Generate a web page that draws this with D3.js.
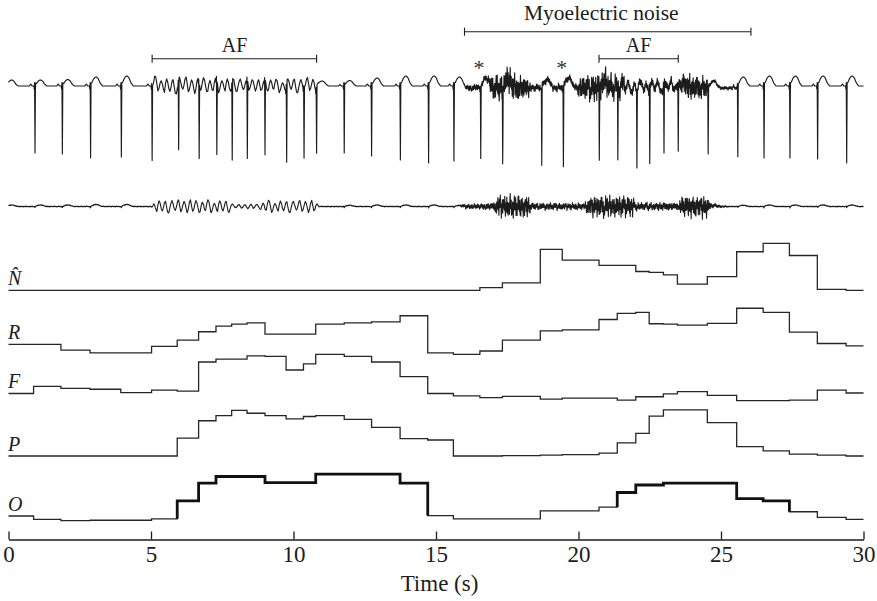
<!DOCTYPE html>
<html><head><meta charset="utf-8">
<script src="https://cdn.jsdelivr.net/npm/d3@7"></script>
<style>
html,body{margin:0;padding:0;background:#fff;}
svg{display:block;font-family:"Liberation Serif","Times New Roman",serif;}
</style></head><body>
<svg id="chart" width="877" height="601"></svg>
<script>
// ---------------- DATA ----------------
const timeTicks = [0, 5, 10, 15, 20, 25, 30];
const axisTitle = "Time (s)";

// start times of the analysis intervals (one per detected beat)
const stepStarts = [0, 0.88, 1.84, 2.86, 3.94, 5.02, 5.92, 6.67, 7.28, 7.83, 8.37, 9.0, 9.74, 10.35, 10.78,
  11.78, 12.74, 13.74, 14.71, 15.61, 16.54, 17.33, 18.66, 19.43, 20.72, 21.36, 22.01, 22.48, 22.98,
  23.47, 24.52, 25.55, 26.48, 27.4, 28.38, 29.39];
const stepEnd = 30;

const nHatValues = [0,0,0,0,0,0,0,0,0,0,0,0,0,0,0,0,0,0,0,0,
  0.055,0.16,0.87,0.64,0.53,0.53,0.40,0.38,0.33,0.13,0.29,0.82,1.0,0.74,0.02,0];
const rValues = [0.21,0.21,0.09,0.03,0.03,0.17,0.30,0.48,0.60,0.64,0.67,0.43,0.43,0.43,0.64,0.67,0.69,0.82,
  0.03,0,0.07,0.30,0.50,0.52,0.74,0.87,0.89,0.65,0.64,0.62,0.66,0.98,0.89,0.47,0.23,0.18];
const fValues = [0.16,0.31,0.27,0.25,0.18,0.23,0.21,0.83,0.89,0.89,0.96,0.95,0.66,0.79,0.99,0.95,0.83,0.52,
  0.16,0.11,0.07,0.10,0.04,0.06,0.06,0.02,0.09,0.09,0.15,0.20,0.12,0.01,0.01,0.02,0.23,0.17];
const pValues = [0,0,0,0,0,0,0.38,0.75,0.86,0.97,0.91,0.86,0.79,0.84,0.86,0.78,0.61,0.37,
  0.34,0,0,0.01,0.02,0.03,0.06,0.28,0.48,0.85,0.98,0.98,0.71,0.20,0.11,0.04,0.02,0];
const oValues = [0.10,0.03,0,0.01,0.01,0.04,0.42,0.80,0.94,0.94,0.94,0.81,0.81,0.81,0.99,0.99,0.99,0.80,
  0.11,0.04,0.04,0.04,0.21,0.21,0.29,0.60,0.76,0.76,0.80,0.80,0.80,0.47,0.42,0.19,0.07,0.03];
const rowLabels = ["N\u0302", "R", "F", "P", "O"];
const afDetected = [[5.92, 14.71], [21.36, 27.4]];

// ECG: beat (R-peak) times, QRS depths, T and P wave heights
const beatTimes = [-0.08, 0.93, 1.89, 2.88, 3.96, 5.04, 5.97, 6.69, 7.31, 7.85, 8.38, 9.0, 9.76, 10.37, 10.81,
  11.78, 12.74, 13.75, 14.74, 15.63, 16.57, 17.34, 18.71, 19.47, 20.73, 21.38, 22.05, 22.5, 23.0, 23.5,
  24.55, 25.59, 26.51, 27.42, 28.39, 29.41];
const beatDepths = [7.0, 6.7, 6.8, 7.2, 7.1, 7.3, 6.8, 7.3, 7.2, 7.6, 7.6, 7.3, 7.7, 6.8, 6.4,
  6.7, 7.0, 7.4, 7.7, 7.5, 7.1, 7.8, 7.7, 7.7, 7.0, 7.4, 7.6, 7.2, 6.8, 6.3,
  6.8, 7.0, 7.2, 7.2, 7.3, 7.7];
const tWaveHeights = [0.6, 0.6, 0.65, 0.9, 1.0, 0.3, 0.15, 0.15, 0.15, 0.15, 0.15, 0.15, 0.15, 0.15, 0.5,
  0.55, 0.8, 1.0, 1.0, 0.9, 1.0, 0.8, 0.85, 1.0, 0.5, 0.3, 0.3, 0.3, 0.3, 0.5,
  0.7, 0.9, 1.0, 1.0, 1.0, 1.0];
const pWaveHeights = [0.2, 0.2, 0.2, 0.2, 0.2, 0.2, 0, 0, 0, 0, 0, 0, 0, 0, 0,
  0.15, 0.2, 0.2, 0.2, 0.2, 0.15, 0, 0.15, 0.15, 0.1, 0, 0, 0, 0, 0,
  0.1, 0.15, 0.2, 0.2, 0.2, 0.2];
const residualTHeights = [0.15, 0.15, 0.15, 0.2, 0.2, 0, 0, 0, 0, 0, 0, 0, 0, 0, 0,
  0.12, 0.15, 0.15, 0.15, 0.1, 0, 0, 0, 0, 0, 0, 0, 0, 0, 0,
  0.1, 0.12, 0.15, 0.15, 0.15, 0.15];

// envelopes: [time, amplitude]
const ecgFibEnvelope = [[5.0,0],[5.12,0.8],[7.8,0.75],[8.4,0.6],[10.75,0.75],[10.9,0],[20.7,0],[20.8,0.5],[23.4,0.5],[23.55,0]];
const ecgNoiseEnvelope = [[15.95,0],[16.1,0.35],[16.8,0.4],[17.0,1.4],[17.6,1.6],[18.2,1.2],[18.35,0.4],
  [19.9,0.4],[20.1,1.3],[20.6,1.6],[21.5,1.3],[21.7,0.5],[23.5,0.5],[23.7,1.4],[24.5,1.3],[24.6,0.2],[25.5,0.2],[25.6,0]];
const ecgDrift = [[15.95,0],[16.1,-0.2],[25.5,-0.2],[25.65,0]];
const resFibEnvelope = [[5.0,0],[5.12,0.65],[7.7,0.65],[7.9,0.2],[8.8,0.25],[9.0,0.6],[10.75,0.6],[10.9,0]];
const resNoiseEnvelope = [[0,0.04],[15.8,0.04],[16.0,0.25],[17.0,0.4],[17.2,1.3],[18.2,1.3],[18.35,0.4],
  [20.2,0.4],[20.4,1.2],[21.9,1.2],[22.0,0.45],[23.5,0.45],[23.65,1.2],[24.5,1.2],[24.65,0.3],[25.1,0.1],[25.3,0.04],[30,0.04]];

// sampled shapes of fibrillatory waves and myoelectric noise
const fWaveShape = [0.2,0.8,0.5,-0.3,-1.0,-0.4,0.6,1.0,0.1,-0.7,-0.5,0.3,0.9,0.6,-0.2,-0.9,-0.8,0.2,0.7,0.3,
  -0.5,-0.6,0.4,1.0,0.8,-0.1,-1.0,-0.6,0.1,0.5,0.2,-0.4,-0.8,0.3,0.9,0.5,-0.3,-0.7,-0.2,0.6,0.8,-0.1,
  -0.9,-1.0,-0.2,0.5,0.9,0.4,-0.3,-0.6,-0.1,0.7,1.0,0.2,-0.8,-0.5];
const noiseShape = [0.3,-0.8,0.9,-0.2,-1.0,0.6,0.1,-0.5,1.0,-0.9,0.4,-0.1,-0.7,0.8,-0.3,0.5,-1.0,0.2,0.9,-0.6,
  0.0,0.7,-0.8,0.3,-0.4,1.0,-0.2,-0.9,0.6,-0.5,0.8,-0.1,-0.6,0.4,0.9,-1.0,0.1,0.5,-0.7,0.2,-0.3,0.9,-0.8,
  0.6,-0.1,-0.5,1.0,-0.4,0.2,-0.9,0.7,0.0,-0.6,0.8,-0.2,0.4,-1.0,0.5,-0.3,0.9,-0.7,0.1,0.6,-0.4];

const bracketLabels = ["AF", "Myoelectric noise", "AF"];
const bracketStarts = [5.04, 16.0, 20.72];
const bracketEnds = [10.81, 26.05, 23.5];
const bracketLabelAt = [7.93, 20.8, 22.11];
const bracketLevel = [1, 0, 1];
const asteriskTimes = [16.51, 19.41];

// ---------------- DRAW ----------------
const svg = d3.select("#chart");
const ink = "#1c1c1c";
const serif = "'Liberation Serif','Times New Roman',serif";
const x = d3.scaleLinear().domain([0, 30]).range([8.5, 863.5]);

// ECG construction helpers
const pShape = d3.scaleLinear().domain([-0.2, -0.15, -0.1]).range([0, 1, 0]).clamp(true);
const qrsSmall = d3.scaleLinear().domain([-0.04, -0.028, -0.014, 0, 0.016, 0.05]).range([0, -0.3, 0.35, 0, 0.3, 0]).clamp(true);
const spike = d3.scaleLinear().domain([-0.014, 0, 0.016]).range([0, -1, 0]).clamp(true);
const tShape = d3.scaleLinear().domain([0.016, 0.05, 0.1, 0.16, 0.21, 0.27, 0.34, 0.42]).range([0, 0.4, 0.75, 0.97, 1, 0.8, 0.3, 0]).clamp(true);
const keyOffsets = [-0.2, -0.15, -0.1, -0.04, -0.028, -0.014, 0, 0.016, 0.05];
const envFn = k => d3.scaleLinear().domain(k.map(d => d[0])).range(k.map(d => d[1])).clamp(true);
function cyc(arr, u) {
  const n = arr.length, i = Math.floor(u), f = u - i;
  const a = arr[((i % n) + n) % n], b = arr[(((i + 1) % n) + n) % n];
  return a + (b - a) * f;
}
const noiseAt = (t, off) => 0.7 * cyc(noiseShape, t / 0.012 + off) + 0.45 * cyc(noiseShape, t / 0.05 + off + 11);

let ts = d3.range(0, 30.0001, 0.004);
beatTimes.forEach(b => keyOffsets.forEach(o => { const t = b + o; if (t >= 0 && t <= 30) ts.push(t); }));
ts.sort((a, b) => a - b);

const fibTop = envFn(ecgFibEnvelope), noiseTop = envFn(ecgNoiseEnvelope), driftTop = envFn(ecgDrift);
const fibRes = envFn(resFibEnvelope), noiseRes = envFn(resNoiseEnvelope);

const topSamples = ts.map(t => {
  let v = driftTop(t) + fibTop(t) * cyc(fWaveShape, t / 0.038) + noiseTop(t) * noiseAt(t, 0);
  beatTimes.forEach((b, i) => {
    const d = t - b;
    if (d > -0.25 && d < 0.5) {
      v += pShape(d) * pWaveHeights[i] + qrsSmall(d) + spike(d) * beatDepths[i] + tShape(d) * tWaveHeights[i];
    }
  });
  return [t, v];
});
const resSamples = ts.map(t => {
  let v = fibRes(t) * cyc(fWaveShape, t / 0.038 + 7) + noiseRes(t) * noiseAt(t, 23);
  beatTimes.forEach((b, i) => {
    const d = t - b;
    if (d > -0.05 && d < 0.5) v += tShape(d) * residualTHeights[i] + spike(d) * 0.12 * (residualTHeights[i] > 0 ? 1 : 0);
  });
  return [t, v];
});

const yTop = d3.scaleLinear().domain([-8, 2]).range([166, 66]);
const yRes = d3.scaleLinear().domain([-2, 2]).range([226.5, 186.5]);

svg.append("path").datum(topSamples)
  .attr("d", d3.line().x(d => x(d[0])).y(d => yTop(d[1])))
  .attr("fill", "none").attr("stroke", ink).attr("stroke-width", 1.15).attr("stroke-linejoin", "round");
svg.append("path").datum(resSamples)
  .attr("d", d3.line().x(d => x(d[0])).y(d => yRes(d[1])))
  .attr("fill", "none").attr("stroke", ink).attr("stroke-width", 1.1).attr("stroke-linejoin", "round");

// brackets
const levelY = [31.7, 58.7];
const levelText = [19.5, 52];
const levelFont = [21.5, 20];
bracketLabels.forEach((lab, i) => {
  const g = svg.append("g");
  const yb = levelY[bracketLevel[i]];
  g.append("line").attr("x1", x(bracketStarts[i])).attr("x2", x(bracketEnds[i])).attr("y1", yb).attr("y2", yb)
    .attr("stroke", ink).attr("stroke-width", 1.1);
  [bracketStarts[i], bracketEnds[i]].forEach(t => g.append("line").attr("x1", x(t)).attr("x2", x(t))
    .attr("y1", yb - 4).attr("y2", yb + 4).attr("stroke", ink).attr("stroke-width", 1.1));
  g.append("text").attr("x", x(bracketLabelAt[i])).attr("y", levelText[bracketLevel[i]])
    .attr("text-anchor", "middle").attr("font-family", serif).attr("font-size", levelFont[bracketLevel[i]])
    .attr("fill", ink).text(lab);
});
asteriskTimes.forEach(t => svg.append("text").attr("x", x(t)).attr("y", 75).attr("text-anchor", "middle")
  .attr("font-family", serif).attr("font-size", 22).attr("fill", "#333").text("*"));

// step rows
const rowSeries = [nHatValues, rValues, fValues, pValues, oValues];
const rowBase = [290.3, 354.3, 401, 456, 520.7];
rowSeries.forEach((vals, r) => {
  const y = d3.scaleLinear().domain([0, 1]).range([rowBase[r], rowBase[r] - 47]);
  const pts = stepStarts.map((t, i) => [t, vals[i]]).concat([[stepEnd, vals[vals.length - 1]]]);
  const line = d3.line().x(d => x(d[0])).y(d => y(d[1])).curve(d3.curveStepAfter);
  svg.append("path").datum(pts).attr("d", line).attr("fill", "none")
    .attr("stroke", "#262626").attr("stroke-width", 1.3);
  svg.append("text").attr("x", 8).attr("y", y(vals[0]) - 5).attr("font-size", 20)
    .attr("font-family", serif).attr("font-style", "italic").attr("fill", ink).text(rowLabels[r]);
  if (r === 4) {
    afDetected.forEach(([a, b]) => {
      const i0 = stepStarts.findIndex(t => t >= a - 1e-6);
      const i1 = stepStarts.findIndex(t => t >= b - 1e-6);
      const seg = [[a, vals[i0 - 1]]];
      for (let i = i0; i < i1; i++) seg.push([stepStarts[i], vals[i]]);
      seg.push([b, vals[i1 - 1]]);
      seg.push([b, vals[i1]]);
      svg.append("path").datum(seg).attr("d", line).attr("fill", "none")
        .attr("stroke", "#111").attr("stroke-width", 2.8);
    });
  }
});

// axis
const axis = d3.axisBottom(x).tickValues(timeTicks).tickSizeInner(-8).tickSizeOuter(0).tickPadding(6);
const ga = svg.append("g").attr("transform", "translate(0,539.5)").call(axis);
ga.attr("font-family", serif);
ga.select(".domain").attr("stroke", ink).attr("stroke-width", 1.3);
ga.selectAll(".tick line").attr("stroke", ink).attr("stroke-width", 1.3);
ga.selectAll(".tick text").attr("fill", ink).attr("font-size", 23).attr("font-family", serif);
svg.append("text").attr("x", 439.5).attr("y", 591).attr("text-anchor", "middle")
  .attr("font-family", serif).attr("font-size", 23).attr("fill", ink).text(axisTitle);
</script>
</body></html>
